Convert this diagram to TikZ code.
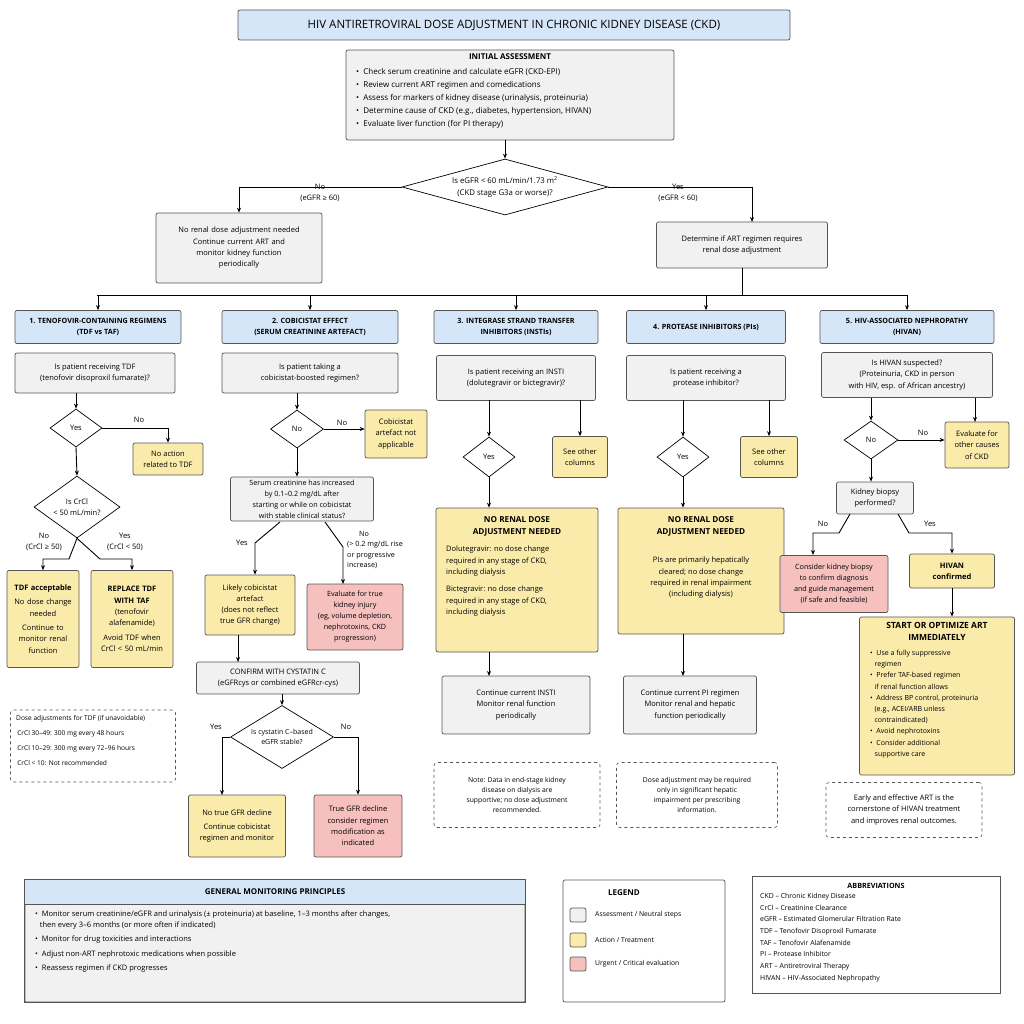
\documentclass[tikz,border=0pt]{standalone}
\usepackage{fontspec}
\setmainfont{Open Sans}
\usetikzlibrary{shapes.geometric,arrows.meta}
\definecolor{gfill}{HTML}{F1F1F1}
\definecolor{yfill}{HTML}{FBEBAA}
\definecolor{rfill}{HTML}{F5C0BE}
\definecolor{bfill}{HTML}{D6E6F9}
\definecolor{edge}{HTML}{555555}
\newcommand{\fs}{\fontsize{7.5}{11.3}\selectfont}
\newcommand{\ph}{\phantom{\textbullet}~}
\begin{document}
\begin{tikzpicture}[x=1pt,y=-1pt,
 box/.style={draw=edge,rounded corners=2pt,align=center,inner sep=2pt,font=\fs,line width=0.7pt},
 g/.style={box,fill=gfill}, yl/.style={box,fill=yfill}, rd/.style={box,fill=rfill}, bl/.style={box,fill=bfill,font=\fontsize{7.2}{11}\selectfont\bfseries},
 note/.style={draw=edge,dashed,rounded corners=3pt,align=center,font=\fs,line width=0.6pt},
 dia/.style={diamond,draw=black,fill=white,inner sep=0pt,line width=0.7pt},
 t/.style={font=\fs,align=center,inner sep=0pt},
 a/.style={-{Stealth[length=5pt,width=4pt]},line width=0.9pt},
 l/.style={line width=0.9pt},
 lab/.style={font=\fs,align=center,inner sep=1pt}]
\useasboundingbox (0,0) rectangle (1024,1024);
% title
\node[box,fill=bfill,minimum width=552,minimum height=30,font=\fontsize{11.5}{13}\selectfont] (title) at (514,25) {HIV ANTIRETROVIRAL DOSE ADJUSTMENT IN CHRONIC KIDNEY DISEASE (CKD)};
% initial
\node[g,minimum width=328,minimum height=90] (init) at (510,95) {};
\node[t,anchor=north,font=\fontsize{8}{11}\selectfont] at (510,54) {\bfseries INITIAL ASSESSMENT};
\node[t,anchor=north west,align=left,font=\fontsize{8}{13}\selectfont] at (356,68) {\textbullet~ Check serum creatinine and calculate eGFR (CKD-EPI)\\
\textbullet~ Review current ART regimen and comedications\\
\textbullet~ Assess for markers of kidney disease (urinalysis, proteinuria)\\
\textbullet~ Determine cause of CKD (e.g., diabetes, hypertension, HIVAN)\\
\textbullet~ Evaluate liver function (for PI therapy)};
\node[dia,minimum width=206,minimum height=56] (d0) at (505,187) {};
\node[t,font=\fontsize{7.8}{11.5}\selectfont] at (d0) {Is eGFR < 60 mL/min/1.73 m\textsuperscript{2}\\(CKD stage G3a or worse)?};
\draw[a] (505,140) -- (d0.north);
\node[g,minimum width=166,minimum height=70,text width=158] (nochg) at (239,248) {No renal dose adjustment needed\\Continue current ART and\\monitor kidney function\\periodically};
\node[g,minimum width=171,minimum height=46] (det) at (742,245) {Determine if ART regimen requires\\renal dose adjustment};
\draw[a] (d0.west) -| (nochg.north);
\draw[a] (d0.east) -| (752,222);
\node[lab] at (320,193) {No\\(eGFR ≥ 60)};
\node[lab] at (678,193) {Yes\\(eGFR < 60)};
% bus
\coordinate (bus) at (742,295);
\draw[l] (det.south) -- (bus);
\draw[l] (97,295) -- (907,295);
% headers
\node[bl,minimum width=166,minimum height=33] (h1) at (98,327) {1. TENOFOVIR-CONTAINING REGIMENS\\(TDF vs TAF)};
\node[bl,minimum width=176,minimum height=33] (h2) at (310,327) {2. COBICISTAT EFFECT\\(SERUM CREATININE ARTEFACT)};
\node[bl,minimum width=164,minimum height=33] (h3) at (516,327) {3. INTEGRASE STRAND TRANSFER\\INHIBITORS (INSTIs)};
\node[bl,minimum width=159,minimum height=33] (h4) at (706,327) {4. PROTEASE INHIBITORS (PIs)};
\node[bl,minimum width=174,minimum height=33] (h5) at (907,327) {5. HIV-ASSOCIATED NEPHROPATHY\\(HIVAN)};
\foreach \h/\x in {h1/98,h2/310,h3/516,h4/706,h5/907} \draw[a] (\x,295) -- (\h.north);
% col1
\node[g,minimum width=160,minimum height=40] (q1) at (95,373) {Is patient receiving TDF\\(tenofovir disoproxil fumarate)?};
\node[dia,minimum width=52,minimum height=38] (d1) at (76,428) {};
\node[t] at (d1) {Yes};
\draw[a] (76,393) -- (d1.north);
\node[yl,minimum width=70,minimum height=32] (na) at (168,459) {No action\\related to TDF};
\draw[a] (d1.east) -| (na.north);
\node[lab] at (139,420) {No};
\node[dia,minimum width=86,minimum height=62] (d2) at (77,507) {};
\node[t] at (d2) {Is CrCl\\< 50 mL/min?};
\draw[a] (d1.south) -- (d2.north);
\node[yl,minimum width=72,minimum height=97,text width=68] (tdfok) at (43,619) {{\bfseries TDF acceptable}\\[3pt]No dose change\\needed\\[3pt]Continue to\\monitor renal\\function};
\node[yl,minimum width=82,minimum height=97,text width=78] (rep) at (132,619) {{\bfseries REPLACE TDF}\\{\bfseries WITH TAF}\\(tenofovir\\alafenamide)\\[3pt]Avoid TDF when\\CrCl < 50 mL/min};
\draw[a] (d2.south) -- (69,559) -| (tdfok.north);
\draw[a] (d2.south) -- (100,559) -| (rep.north);
\node[lab] at (44,542) {No\\(CrCl ≥ 50)};
\node[lab] at (125,542) {Yes\\(CrCl < 50)};
\node[note,minimum width=165,minimum height=72] (tdfn) at (93,746) {};
\node[t,anchor=north west,align=left,font=\fontsize{6.6}{15}\selectfont] at (16,715) {Dose adjustments for TDF (if unavoidable)\\
\,CrCl 30–49: 300 mg every 48 hours\\
\,CrCl 10–29: 300 mg every 72–96 hours\\
\,CrCl < 10: Not recommended};
% col2
\node[g,minimum width=176,minimum height=40] (q2) at (310,373) {Is patient taking a\\cobicistat-boosted regimen?};
\node[dia,minimum width=53,minimum height=38] (d3) at (297,429) {};
\node[t] at (d3) {No};
\draw[a] (297,393) -- (d3.north);
\node[yl,minimum width=62,minimum height=48] (cna) at (396,434) {Cobicistat\\artefact not\\applicable};
\draw[a] (d3.east) -- (cna.west |- d3.east);
\node[lab] at (342,423) {No};
\node[g,minimum width=143,minimum height=44,font=\fontsize{7.2}{11}\selectfont] (ser) at (302,499) {Serum creatinine has increased\\by 0.1–0.2 mg/dL after\\starting or while on cobicistat\\with stable clinical status?};
\draw[a] (d3.south) -- (ser.north -| d3.south);
\node[yl,minimum width=90,minimum height=60] (lik) at (250,605) {Likely cobicistat\\artefact\\(does not reflect\\true GFR change)};
\node[rd,minimum width=96,minimum height=66,font=\fontsize{7.2}{11}\selectfont] (evt) at (355,617) {Evaluate for true\\kidney injury\\(eg, volume depletion,\\nephrotoxins, CKD\\progression)};
\draw[a] (280,522) -- (255,543) -- (lik.north -| 255,0);
\draw[a] (325,522) -- (343,547) -- (343,584);
\node[lab] at (242,543) {Yes};
\node[lab,anchor=north west,align=left,font=\fontsize{7.2}{10.5}\selectfont] at (346,530) {\hspace{12pt}No\\(> 0.2 mg/dL rise\\or progressive\\increase)};
\node[g,minimum width=163,minimum height=32] (conf) at (278,678) {CONFIRM WITH CYSTATIN C\\(eGFRcys or combined eGFRcr-cys)};
\draw[a] (238,635) -- (238,662);
\node[dia,minimum width=103,minimum height=63] (d4) at (282,737) {};
\node[t,font=\fontsize{7}{10.5}\selectfont] at (d4) {Is cystatin C–based\\eGFR stable?};
\draw[a] (282,694) -- (d4.north);
\node[yl,minimum width=97,minimum height=62] (ntg) at (237,826) {No true GFR decline\\[3pt]Continue cobicistat\\regimen and monitor};
\node[rd,minimum width=88,minimum height=62] (tgd) at (358,826) {True GFR decline\\consider regimen\\modification as\\indicated};
\draw[a] (d4.west) -- (222,737) -- (222,795);
\draw[a] (d4.east) -- (358,737) -- (tgd.north);
\node[lab] at (216,727) {Yes};
\node[lab] at (346,727) {No};
% col3
\node[g,minimum width=159,minimum height=45] (q3) at (516,378) {Is patient receiving an INSTI\\(dolutegravir or bictegravir)?};
\node[dia,minimum width=52,minimum height=40] (d5) at (489,457) {};
\node[t] at (d5) {Yes};
\node[yl,minimum width=55,minimum height=41] (so3) at (580,457) {See other\\columns};
\draw[a] (489,400) -- (d5.north);
\draw[a] (580,400) -- (so3.north);
\node[yl,minimum width=162,minimum height=144,text width=154] (nr3) at (517,580) {};
\node[t,anchor=north,font=\fontsize{8.2}{12}\selectfont\bfseries] at (517,516) {NO RENAL DOSE\\ADJUSTMENT NEEDED};
\node[t,anchor=north west,align=left] at (446,546) {Dolutegravir: no dose change\\required in any stage of CKD,\\including dialysis\\[6pt]Bictegravir: no dose change\\required in any stage of CKD,\\including dialysis};
\draw[a] (d5.south) -- (nr3.north -| d5.south);
\node[g,minimum width=148,minimum height=58] (c3) at (516,705) {Continue current INSTI\\Monitor renal function\\periodically};
\draw[a] (489,652) -- (489,676);
\node[note,minimum width=166,minimum height=65,font=\fontsize{6.8}{10}\selectfont] (n3) at (517,795) {Note: Data in end-stage kidney\\disease on dialysis are\\supportive; no dose adjustment\\recommended.};
% col4
\node[g,minimum width=159,minimum height=45] (q4) at (706,378) {Is patient receiving a\\protease inhibitor?};
\node[dia,minimum width=52,minimum height=40] (d6) at (683,457) {};
\node[t] at (d6) {Yes};
\node[yl,minimum width=57,minimum height=41] (so4) at (769,457) {See other\\columns};
\draw[a] (683,400) -- (d6.north);
\draw[a] (769,400) -- (so4.north);
\node[yl,minimum width=166,minimum height=126] (nr4) at (701,571) {};
\node[t,anchor=north,font=\fontsize{8.2}{12}\selectfont\bfseries] at (701,516) {NO RENAL DOSE\\ADJUSTMENT NEEDED};
\node[t,anchor=north] at (701,557) {PIs are primarily hepatically\\cleared; no dose change\\required in renal impairment\\(including dialysis)};
\draw[a] (d6.south) -- (nr4.north -| d6.south);
\node[g,minimum width=133,minimum height=58] (c4) at (690,705) {Continue current PI regimen\\Monitor renal and hepatic\\function periodically};
\draw[a] (683,634) -- (683,676);
\node[note,minimum width=161,minimum height=65,font=\fontsize{6.8}{10}\selectfont] (n4) at (697,795) {Dose adjustment may be required\\only in significant hepatic\\impairment per prescribing\\information.};
% col5
\node[g,minimum width=171,minimum height=45] (q5) at (907,375) {Is HIVAN suspected?\\(Proteinuria, CKD in person\\with HIV, esp. of African ancestry)};
\node[dia,minimum width=54,minimum height=38] (d7) at (871,440) {};
\node[t] at (d7) {No};
\node[yl,minimum width=64,minimum height=46] (eoc) at (977,445) {Evaluate for\\other causes\\of CKD};
\draw[a] (871,398) -- (d7.north);
\draw[a] (975,398) -- (975,422);
\draw[a] (d7.east) -- (eoc.west |- d7.east);
\node[lab] at (923,433) {No};
\node[g,minimum width=77,minimum height=32] (kb) at (875,498) {Kidney biopsy\\performed?};
\draw[a] (d7.south) -- (kb.north -| d7.south);
\node[rd,minimum width=108,minimum height=57,font=\fontsize{7.2}{11}\selectfont] (ckb) at (834,584) {Consider kidney biopsy\\to confirm diagnosis\\and guide management\\(if safe and feasible)};
\node[yl,minimum width=85,minimum height=34] (hc) at (952,571) {{\bfseries HIVAN}\\{\bfseries confirmed}};
\draw[a] (850,514) -- (839,533) -- (813,533) -- (813,555);
\draw[a] (898,514) -- (909,533) -- (952,533) -- (hc.north);
\node[lab] at (823,524) {No};
\node[lab] at (930,524) {Yes};
\node[yl,minimum width=155,minimum height=158] (st) at (937,696) {};
\draw[a] (hc.south) -- (st.north -| hc.south);
\node[t,anchor=north,font=\fontsize{8.5}{12}\selectfont\bfseries] at (937,622) {START OR OPTIMIZE ART\\IMMEDIATELY};
\node[t,anchor=north west,align=left,font=\fontsize{7}{11.2}\selectfont] at (870,650) {\textbullet~ Use a fully suppressive\\\ph regimen\\
\textbullet~ Prefer TAF-based regimen\\\ph if renal function allows\\
\textbullet~ Address BP control, proteinuria\\\ph (e.g., ACEI/ARB unless\\\ph contraindicated)\\
\textbullet~ Avoid nephrotoxins\\
\textbullet~ Consider additional\\\ph supportive care};
\node[note,minimum width=156,minimum height=55] (n5) at (904,810) {Early and effective ART is the\\cornerstone of HIVAN treatment\\and improves renal outcomes.};
% general monitoring
\node[g,minimum width=500,minimum height=122,rounded corners=1pt] (gm) at (275,941) {};
\fill[bfill] ([shift={(0.5,0.5)}]gm.north west) rectangle (524.5,904);
\draw[edge,line width=0.7pt] (25,904) -- (525,904);
\draw[edge,line width=0.7pt] (gm.north west) rectangle (gm.south east);
\node[t,font=\fontsize{8}{11}\selectfont\bfseries] at (275,892) {GENERAL MONITORING PRINCIPLES};
\node[t,anchor=north west,align=left,font=\fontsize{7.5}{10.5}\selectfont] at (35,911) {\textbullet~ Monitor serum creatinine/eGFR and urinalysis (± proteinuria) at baseline, 1–3 months after changes,\\\ph then every 3–6 months (or more often if indicated)\\[4pt]
\textbullet~ Monitor for drug toxicities and interactions\\[4pt]
\textbullet~ Adjust non-ART nephrotoxic medications when possible\\[4pt]
\textbullet~ Reassess regimen if CKD progresses};
% legend
\node[box,fill=white,minimum width=162,minimum height=122] (leg) at (644,941) {};
\node[t,font=\fontsize{8}{11}\selectfont\bfseries] at (624,893) {LEGEND};
\node[box,fill=gfill,minimum width=16,minimum height=14,inner sep=0pt] (lg1) at (578,915) {};
\node[box,fill=yfill,minimum width=16,minimum height=14,inner sep=0pt] (lg2) at (578,940) {};
\node[box,fill=rfill,minimum width=16,minimum height=14,inner sep=0pt] (lg3) at (578,964) {};
\node[t,anchor=west,font=\fontsize{6.8}{9}\selectfont] at (595,915) {Assessment / Neutral steps};
\node[t,anchor=west,font=\fontsize{6.8}{9}\selectfont] at (595,940) {Action / Treatment};
\node[t,anchor=west,font=\fontsize{6.8}{9}\selectfont] at (595,964) {Urgent / Critical evaluation};
% abbreviations
\node[box,fill=white,rounded corners=0pt,minimum width=248,minimum height=117] (abb) at (876,935) {};
\node[t,font=\fontsize{7.2}{10}\selectfont\bfseries] at (876,886) {ABBREVIATIONS};
\node[t,anchor=north west,align=left,font=\fontsize{6.9}{11.7}\selectfont] at (760,893) {CKD – Chronic Kidney Disease\\CrCl – Creatinine Clearance\\eGFR – Estimated Glomerular Filtration Rate\\TDF – Tenofovir Disoproxil Fumarate\\TAF – Tenofovir Alafenamide\\PI – Protease Inhibitor\\ART – Antiretroviral Therapy\\HIVAN – HIV-Associated Nephropathy};
\end{tikzpicture}
\end{document}
